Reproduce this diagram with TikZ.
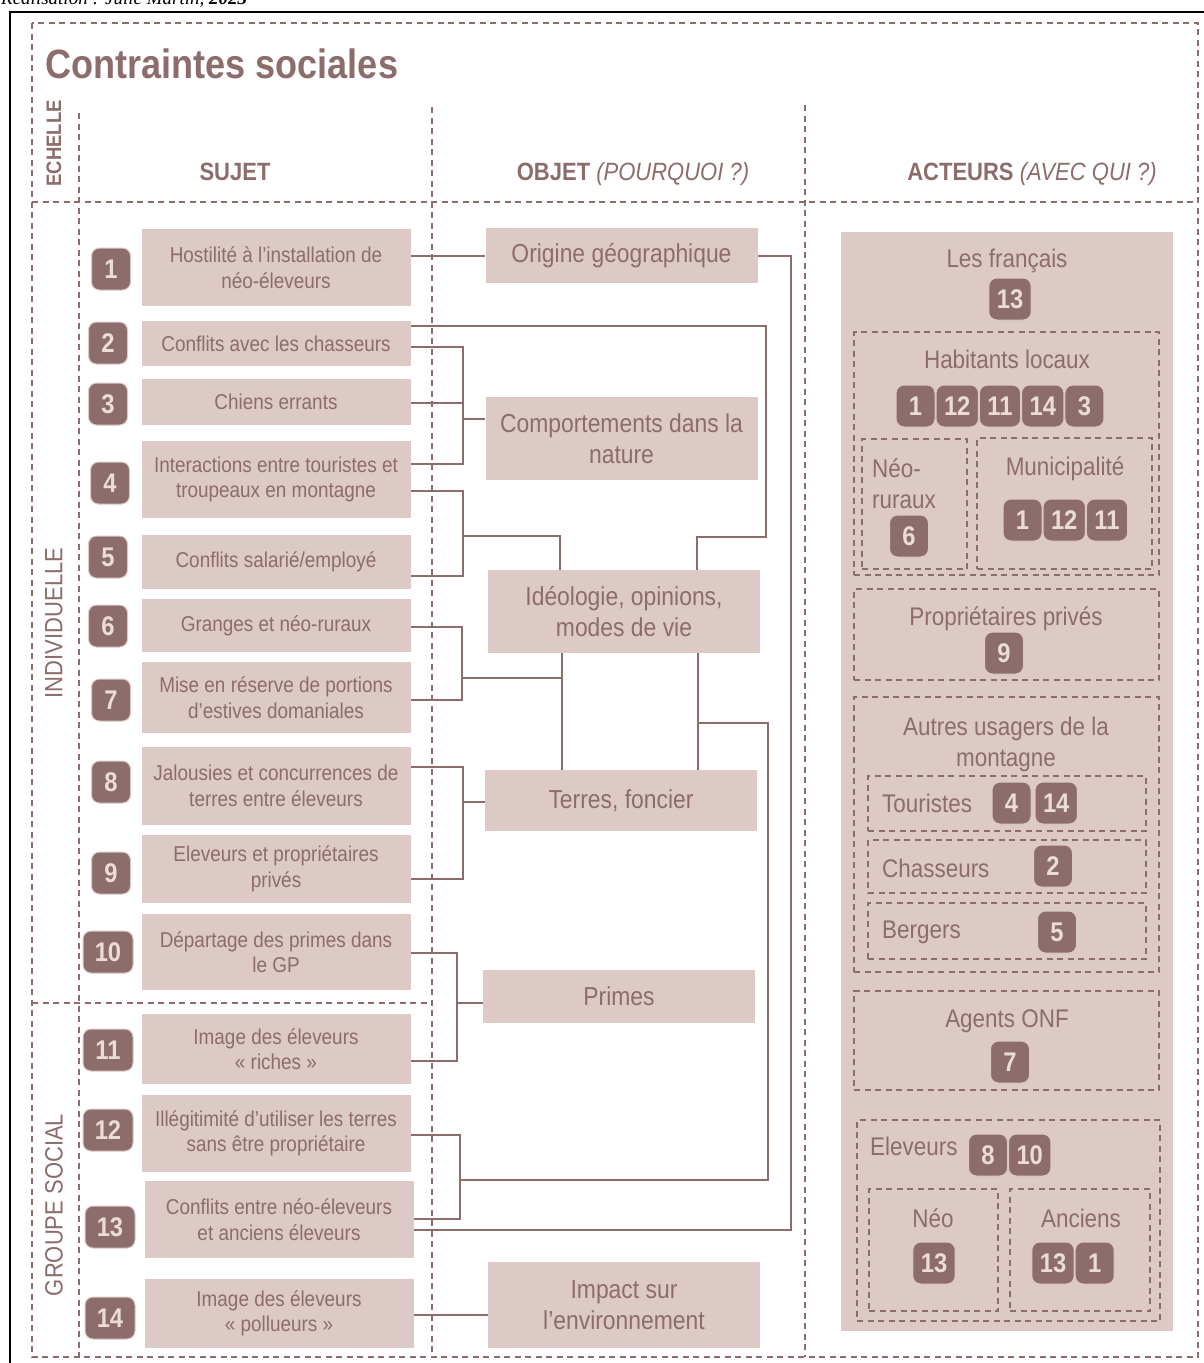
\documentclass[tikz,border=0pt]{standalone}
\usepackage{fontspec}
\setmainfont[FakeStretch=0.88]{Liberation Sans}
\newfontfamily\legende{Liberation Serif}
\usetikzlibrary{positioning}
\definecolor{brun}{HTML}{8C6D6B}
\definecolor{rose}{HTML}{DDC9C6}
\definecolor{chiffre}{HTML}{EBDCD9}

\begin{document}
\begin{tikzpicture}[x=1pt,y=-1pt]
  \tikzstyle{cadre}=[draw=brun,line width=1.6pt,dash pattern=on 6pt off 4.5pt]
  \tikzstyle{edge}=[draw=brun,line width=2pt]
  \tikzstyle{sujet}=[rectangle,fill=rose,text=brun,minimum width=269pt,align=center,font=\fontsize{21.5}{25.5}\selectfont]
  \tikzstyle{objet}=[rectangle,fill=rose,text=brun,minimum width=272pt,align=center,font=\fontsize{26}{31}\selectfont]
  \tikzstyle{num}=[rectangle,rounded corners=8pt,fill=brun,draw=rose,line width=1pt,text=chiffre,minimum width=39pt,minimum height=42pt,inner xsep=8pt,font=\bfseries\fontsize{27}{27}\selectfont]
  \tikzstyle{numlarge}=[num,minimum width=50pt]
  \tikzstyle{groupe}=[rectangle,cadre,inner sep=0pt]
  \tikzstyle{acteur}=[text=brun,inner sep=0pt,font=\fontsize{25.5}{31}\selectfont]
  \tikzstyle{entete}=[text=brun,inner sep=0pt,font=\fontsize{25}{25}\selectfont]

  \fill[white] (0,0) rectangle (1204,1363);
  \useasboundingbox (0,0) rectangle (1204,1363);
  \node[anchor=base west,inner sep=0pt,font=\legende\itshape\fontsize{19}{19}\selectfont] (realisation) at (1,4) {Réalisation : Julie Martin, \textbf{2023}};
  \draw[black,line width=2pt] (10,1363) -- (10,12) -- (1204,12);

  % grille
  \draw[cadre] (32,23) rectangle (1198,1357);
  \draw[cadre] (32,202) -- (1198,202);
  \draw[cadre] (79,113) -- (79,1357);
  \draw[cadre] (432,107) -- (432,1357);
  \draw[cadre] (805,105) -- (805,1357);
  \draw[cadre] (32,1003) -- (432,1003);

  \node[anchor=base west,inner sep=0pt,text=brun,font=\bfseries\fontsize{41}{41}\selectfont] (titre) at (45,78) {Contraintes sociales};
  \node[entete,anchor=base] (hsujet) at (235,180) {\textbf{SUJET}};
  \node[entete,anchor=base] (hobjet) at (633,180) {\textbf{OBJET} \textit{(POURQUOI ?)}};
  \node[entete,anchor=base] (hacteurs) at (1032,180) {\textbf{ACTEURS} \textit{(AVEC QUI ?)}};
  \node[entete,rotate=90,font=\bfseries\fontsize{21}{21}\selectfont] (hechelle) at (54,143.5) {ECHELLE};
  \node[entete,rotate=90] (hindiv) at (54,623) {INDIVIDUELLE};
  \node[entete,rotate=90] (hgroupe) at (54,1205) {GROUPE SOCIAL};

  % sujets
  \node[sujet,minimum height=77pt] (s1) at (276,267.5) {Hostilité à l’installation de\\néo-éleveurs};
  \node[sujet,minimum height=45pt] (s2) at (276,343.5) {Conflits avec les chasseurs};
  \node[sujet,minimum height=46pt] (s3) at (276,402) {Chiens errants};
  \node[sujet,minimum height=77pt] (s4) at (276,479.5) {Interactions entre touristes et\\troupeaux en montagne};
  \node[sujet,minimum height=54pt] (s5) at (276,562) {Conflits salarié/employé};
  \node[sujet,minimum height=53pt] (s6) at (276,625.5) {Granges et néo-ruraux};
  \node[sujet,minimum height=71pt] (s7) at (276,697.5) {Mise en réserve de portions\\d’estives domaniales};
  \node[sujet,minimum height=78pt] (s8) at (276,786) {Jalousies et concurrences de\\terres entre éleveurs};
  \node[sujet,minimum height=68pt] (s9) at (276,869) {Eleveurs et propriétaires\\privés};
  \node[sujet,minimum height=76pt] (s10) at (276,952) {Départage des primes dans\\le GP};
  \node[sujet,minimum height=70pt] (s11) at (276,1049) {Image des éleveurs\\« riches »};
  \node[sujet,minimum height=77pt] (s12) at (276,1133.5) {Illégitimité d’utiliser les terres\\sans être propriétaire};
  \node[sujet,minimum height=77pt] (s13) at (279,1219.5) {Conflits entre néo-éleveurs\\et anciens éleveurs};
  \node[sujet,minimum height=69pt] (s14) at (279,1313.5) {Image des éleveurs\\« pollueurs »};

  \node[num] (n1) at (111,269) {1};
  \node[num] (n2) at (108,343) {2};
  \node[num] (n3) at (108,404) {3};
  \node[num] (n4) at (110,483) {4};
  \node[num] (n5) at (108,557) {5};
  \node[num] (n6) at (108,626) {6};
  \node[num] (n7) at (111,700) {7};
  \node[num] (n8) at (111,782) {8};
  \node[num] (n9) at (111,873) {9};
  \node[numlarge] (n10) at (108,952) {10};
  \node[numlarge] (n11) at (108,1050) {11};
  \node[numlarge] (n12) at (108,1130) {12};
  \node[numlarge] (n13) at (110,1227) {13};
  \node[numlarge] (n14) at (110,1318) {14};

  % objets
  \node[objet,minimum height=55pt] (o1) at (621.5,255.5) {Origine géographique};
  \node[objet,minimum height=83pt] (o2) at (621.5,438.5) {Comportements dans la\\nature};
  \node[objet,minimum height=83pt] (o3) at (624,611.5) {Idéologie, opinions,\\modes de vie};
  \node[objet,minimum height=61pt] (o4) at (621,800.5) {Terres, foncier};
  \node[objet,minimum height=53pt] (o5) at (619,996.5) {Primes};
  \node[objet,minimum height=86pt] (o6) at (624,1305) {Impact sur\\l’environnement};

  \coordinate (jComp) at (463,419);
  \coordinate (jIdeo) at (463,536);
  \coordinate (jMise) at (462,678);
  \coordinate (jTerres) at (463,802);
  \coordinate (jPrimes) at (457,1003);
  \coordinate (jLegit) at (460,1180);

  \draw[edge] (s1.east |- o1.west) -- (o1.west);
  \draw[edge] (o1.east) -| (791,1230) -- (s13.east |- 0,1230);
  \draw[edge] (s2.east |- 0,326) -| (766,537) -| (o3.north -| 697,0);
  \draw[edge] (s2.east |- 0,347) -| (jComp) |- (s4.east |- 0,464);
  \draw[edge] (s3.east |- 0,403) -- (jComp |- 0,403);
  \draw[edge] (jComp) -- (jComp -| o2.west);
  \draw[edge] (s4.east |- 0,491) -| (jIdeo) |- (s5.east |- 0,576);
  \draw[edge] (jIdeo) -| (o3.north -| 560,0);
  \draw[edge] (s6.east |- 0,627) -| (jMise) |- (s7.east |- 0,700);
  \draw[edge] (jMise) -- (562,678);
  \draw[edge] (o3.south -| 562,0) -- (o4.north -| 562,0);
  \draw[edge] (o3.south -| 698,0) -- (o4.north -| 698,0);
  \draw[edge] (698,723) -| (768,1180) -- (jLegit);
  \draw[edge] (s12.east |- 0,1135) -| (jLegit) |- (s13.east |- 0,1219);
  \draw[edge] (s8.east |- 0,767) -| (jTerres) |- (s9.east |- 0,879);
  \draw[edge] (jTerres) -- (jTerres -| o4.west);
  \draw[edge] (s10.east |- 0,953) -| (jPrimes) |- (s11.east |- 0,1061);
  \draw[edge] (jPrimes) -- (jPrimes -| o5.west);
  \draw[edge] (s14.east |- 0,1315) -- (o6.west |- 0,1315);

  % acteurs
  \node[fill=rose,minimum width=332pt,minimum height=1099pt,inner sep=0pt] (acteurs) at (1007,781.5) {};
  \node[groupe,minimum width=305pt,minimum height=243pt] (ghab) at (1006.5,453.5) {};
  \node[groupe,minimum width=105pt,minimum height=130pt] (gneor) at (914.5,504) {};
  \node[groupe,minimum width=175pt,minimum height=131pt] (gmun) at (1064.5,503.5) {};
  \node[groupe,minimum width=305pt,minimum height=91pt] (gprop) at (1006.5,634.5) {};
  \node[groupe,minimum width=305pt,minimum height=275pt] (gaut) at (1006.5,834.5) {};
  \node[groupe,minimum width=278pt,minimum height=55pt] (gtour) at (1007,803.5) {};
  \node[groupe,minimum width=278pt,minimum height=53pt] (gchas) at (1007,866.5) {};
  \node[groupe,minimum width=278pt,minimum height=56pt] (gberg) at (1007,931) {};
  \node[groupe,minimum width=305pt,minimum height=99pt] (gonf) at (1006.5,1040.5) {};
  \node[groupe,minimum width=303pt,minimum height=201pt] (gelev) at (1008.5,1220.5) {};
  \node[groupe,minimum width=129pt,minimum height=122pt] (gneo) at (933.5,1250) {};
  \node[groupe,minimum width=140pt,minimum height=122pt] (ganc) at (1080,1250) {};

  \node[acteur,anchor=base] (lfr) at (1007,267) {Les français};
  \node[acteur,anchor=base] (lhab) at (1007,368) {Habitants locaux};
  \node[acteur,anchor=west,align=left] (lneor) at (872,484) {Néo-\\ruraux};
  \node[acteur,anchor=base] (lmun) at (1065,475) {Municipalité};
  \node[acteur,anchor=base] (lprop) at (1006,625) {Propriétaires privés};
  \node[acteur,align=center] (laut) at (1006,744) {Autres usagers de la\\montagne};
  \node[acteur,anchor=base west] (ltour) at (882,812) {Touristes};
  \node[acteur,anchor=base west] (lchas) at (882,877) {Chasseurs};
  \node[acteur,anchor=base west] (lberg) at (882,938) {Bergers};
  \node[acteur,anchor=base] (lonf) at (1007,1027) {Agents ONF};
  \node[acteur,anchor=base west] (lelev) at (870,1155) {Eleveurs};
  \node[acteur,anchor=base] (lneo) at (933,1227) {Néo};
  \node[acteur,anchor=base] (lanc) at (1081,1227) {Anciens};

  \node[num] (fr13) at (1010,299) {13};
  \node[num] (hab1) at (915.5,406) {1};
  \node[num,right=0pt of hab1] (hab12) {12};
  \node[num,right=0pt of hab12] (hab11) {11};
  \node[num,right=0pt of hab11] (hab14) {14};
  \node[num,right=0pt of hab14] (hab3) {3};
  \node[num] (neor6) at (909,536) {6};
  \node[num] (mun1) at (1022.5,520) {1};
  \node[num,right=0pt of mun1] (mun12) {12};
  \node[num,right=0pt of mun12] (mun11) {11};
  \node[num] (prop9) at (1004,653) {9};
  \node[num] (tour4) at (1011.5,803) {4};
  \node[num,right=3pt of tour4] (tour14) {14};
  \node[num] (chas2) at (1053,866) {2};
  \node[num] (berg5) at (1057,932) {5};
  \node[num] (onf7) at (1010,1062) {7};
  \node[num] (elev8) at (988,1155) {8};
  \node[num,right=0pt of elev8] (elev10) {10};
  \node[num] (neo13) at (934,1263) {13};
  \node[num] (anc13) at (1053,1263) {13};
  \node[num,right=0pt of anc13] (anc1) {1};
\end{tikzpicture}
\end{document}
